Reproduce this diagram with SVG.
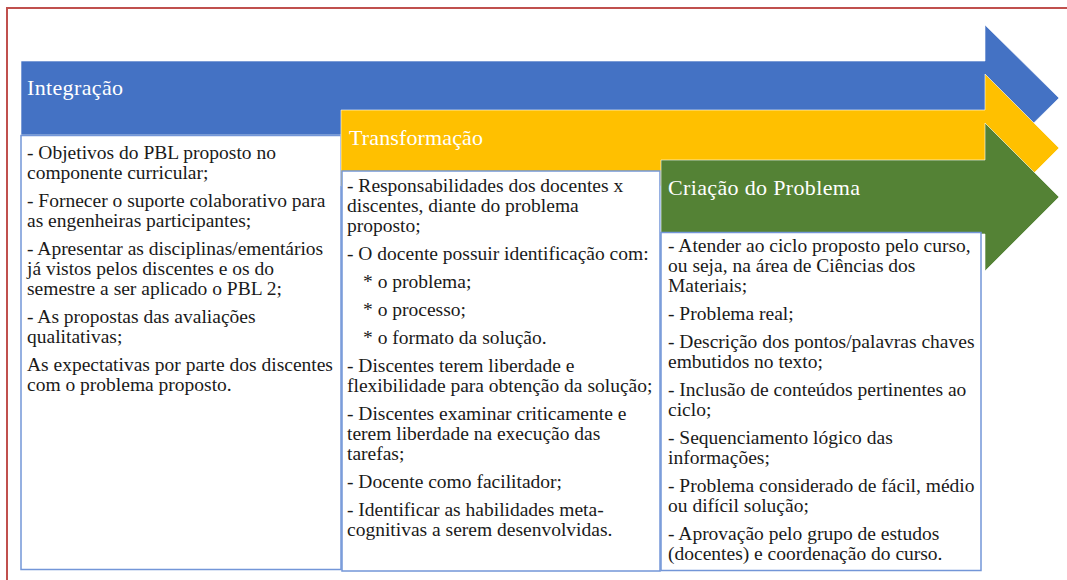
<svg xmlns="http://www.w3.org/2000/svg" width="1067" height="580" viewBox="0 0 1067 580">
<style>
.frame{fill:none;stroke:#c0504d;stroke-width:2}
.arrow{stroke:#ffffff;stroke-opacity:0.6;stroke-width:1}
.box{fill:#ffffff;stroke:#7396d8;stroke-width:1.5}
.head{font-family:"Liberation Serif","Times New Roman",serif;font-size:22px;fill:#ffffff}
.body{font-family:"Liberation Serif","Times New Roman",serif;font-size:19.5px;fill:#1a1a1a}
</style>
<rect width="1067" height="580" fill="#ffffff"/>
<path class="frame" d="M7,580 V8 H1067"/>
<g id="integracao">
<path class="arrow" fill="#4472c4" d="M21,61 H985 V25 L1059,98 L985,171 V135 H21 Z"/>
<text class="head" x="27" y="95" textLength="96">Integração</text>
<rect class="box" x="21" y="135.5" width="320" height="434"/>
<text class="body">
<tspan x="27" y="159">- Objetivos do PBL proposto no</tspan>
<tspan x="27" y="179">componente curricular;</tspan>
<tspan x="27" y="207">- Fornecer o suporte colaborativo para</tspan>
<tspan x="27" y="227">as engenheiras participantes;</tspan>
<tspan x="27" y="255">- Apresentar as disciplinas/ementários</tspan>
<tspan x="27" y="275">já vistos pelos discentes e os do</tspan>
<tspan x="27" y="295">semestre a ser aplicado o PBL 2;</tspan>
<tspan x="27" y="323">- As propostas das avaliações</tspan>
<tspan x="27" y="343">qualitativas;</tspan>
<tspan x="27" y="371">As expectativas por parte dos discentes</tspan>
<tspan x="27" y="391">com o problema proposto.</tspan>
</text>
</g>
<g id="transformacao">
<path class="arrow" fill="#ffc000" d="M341,110 H985 V74 L1059,148 L985,222 V186 H341 Z"/>
<text class="head" x="349" y="145" textLength="134">Transformação</text>
<rect class="box" x="342" y="171" width="318" height="400"/>
<text class="body">
<tspan x="347" y="192">- Responsabilidades dos docentes x</tspan>
<tspan x="347" y="212">discentes, diante do problema</tspan>
<tspan x="347" y="232">proposto;</tspan>
<tspan x="347" y="260">- O docente possuir identificação com:</tspan>
<tspan x="363" y="288">* o problema;</tspan>
<tspan x="363" y="316">* o processo;</tspan>
<tspan x="363" y="344">* o formato da solução.</tspan>
<tspan x="347" y="372">- Discentes terem liberdade e</tspan>
<tspan x="347" y="392">flexibilidade para obtenção da solução;</tspan>
<tspan x="347" y="420">- Discentes examinar criticamente e</tspan>
<tspan x="347" y="440">terem liberdade na execução das</tspan>
<tspan x="347" y="460">tarefas;</tspan>
<tspan x="347" y="488">- Docente como facilitador;</tspan>
<tspan x="347" y="516">- Identificar as habilidades meta-</tspan>
<tspan x="347" y="536">cognitivas a serem desenvolvidas.</tspan>
</text>
</g>
<g id="criacao-problema">
<path class="arrow" fill="#548235" d="M661,160 H985 V123 L1059,197 L985,271 V234 H661 Z"/>
<text class="head" x="668" y="195" textLength="192">Criação do Problema</text>
<rect class="box" x="661" y="232.5" width="320" height="338"/>
<text class="body">
<tspan x="668" y="252">- Atender ao ciclo proposto pelo curso,</tspan>
<tspan x="668" y="272">ou seja, na área de Ciências dos</tspan>
<tspan x="668" y="292">Materiais;</tspan>
<tspan x="668" y="320">- Problema real;</tspan>
<tspan x="668" y="348">- Descrição dos pontos/palavras chaves</tspan>
<tspan x="668" y="368">embutidos no texto;</tspan>
<tspan x="668" y="396">- Inclusão de conteúdos pertinentes ao</tspan>
<tspan x="668" y="416">ciclo;</tspan>
<tspan x="668" y="444">- Sequenciamento lógico das</tspan>
<tspan x="668" y="464">informações;</tspan>
<tspan x="668" y="492">- Problema considerado de fácil, médio</tspan>
<tspan x="668" y="512">ou difícil solução;</tspan>
<tspan x="668" y="540">- Aprovação pelo grupo de estudos</tspan>
<tspan x="668" y="560">(docentes) e coordenação do curso.</tspan>
</text>
</g>
<g id="connectors"/>
</svg>
